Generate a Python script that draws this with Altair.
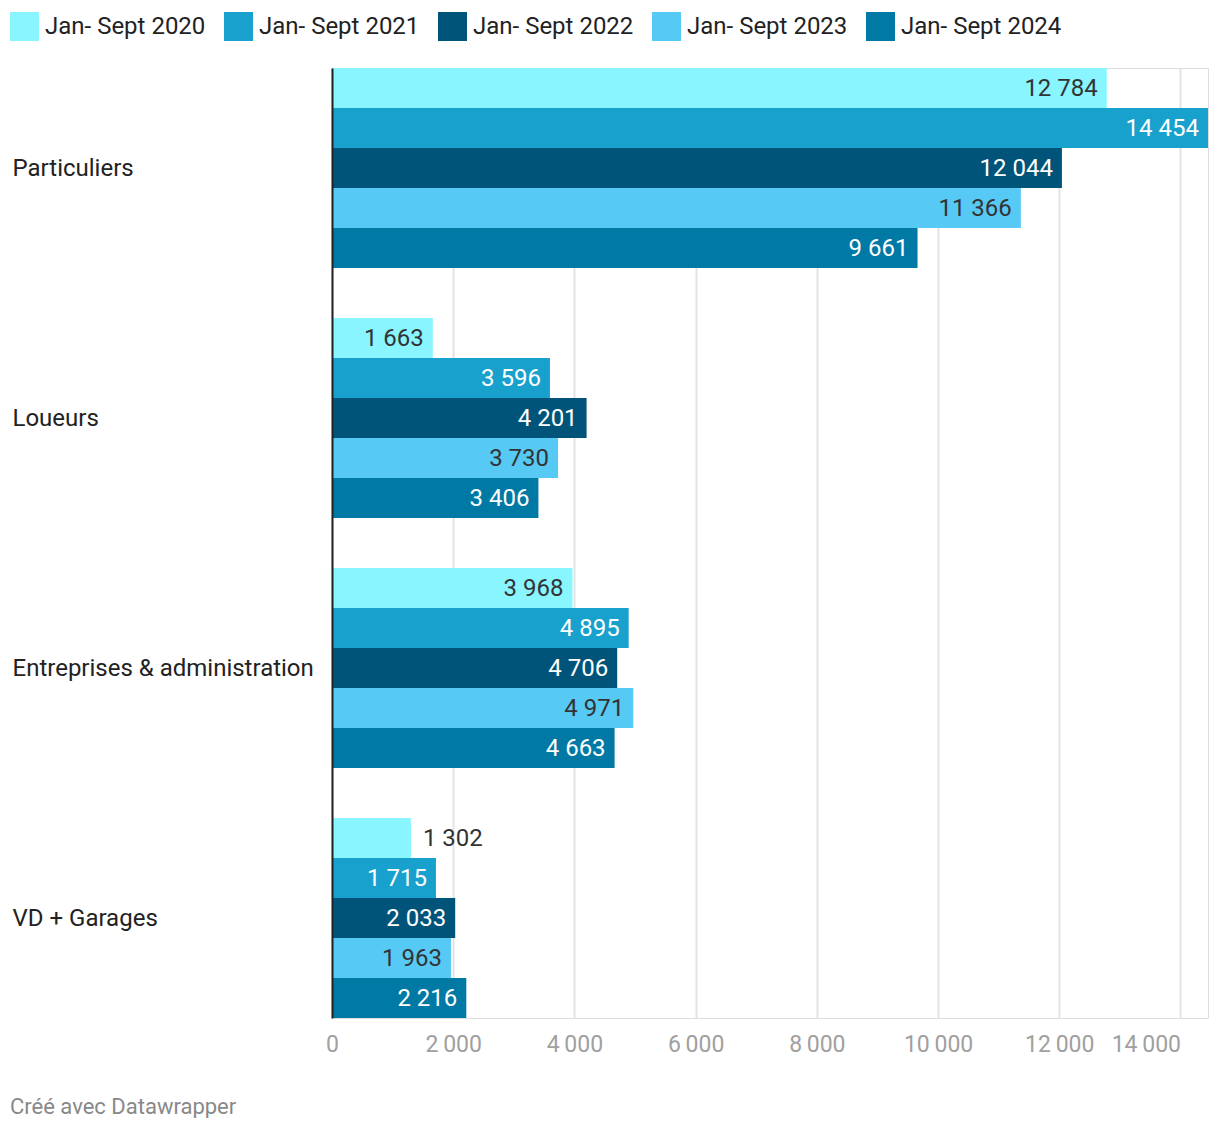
import altair as alt
import pandas as pd

categories = ["Particuliers", "Loueurs", "Entreprises & administration", "VD + Garages"]
series = ["Jan- Sept 2020", "Jan- Sept 2021", "Jan- Sept 2022", "Jan- Sept 2023", "Jan- Sept 2024"]
values_2020 = [12784, 1663, 3968, 1302]
values_2021 = [14454, 3596, 4895, 1715]
values_2022 = [12044, 4201, 4706, 2033]
values_2023 = [11366, 3730, 4971, 1963]
values_2024 = [9661, 3406, 4663, 2216]
colors = ["#88f5ff", "#18a1cd", "#00547a", "#57c9f5", "#0079a5"]
label_colors = ["#333333", "#ffffff", "#ffffff", "#333333", "#ffffff"]
x_ticks = [0, 2000, 4000, 6000, 8000, 10000, 12000, 14000]

all_values = [values_2020, values_2021, values_2022, values_2023, values_2024]
rows = []
for s, vals in zip(series, all_values):
    for c, v in zip(categories, vals):
        rows.append({"category": c, "series": s, "value": v})
df = pd.DataFrame(rows)

FONT = "Roboto"
FS = 24

y_enc = alt.Y("category:N", sort=categories,
              scale=alt.Scale(paddingInner=0.2, paddingOuter=0),
              axis=alt.Axis(title=None, labelAlign="left", labelPadding=320,
                            labelFontSize=FS, labelColor="#222222", labelFont=FONT,
                            labelLimit=0, zindex=2, labelOffset=1,
                            ticks=False, domain=True, domainColor="#222222",
                            domainWidth=2, grid=False))
yoff = alt.YOffset("series:N", sort=series, scale=alt.Scale(paddingInner=0, paddingOuter=0))
x_scale = alt.Scale(domain=[0, 14454], nice=False)

bars = alt.Chart(df).mark_bar().encode(
    x=alt.X("value:Q", scale=x_scale,
            axis=alt.Axis(title=None, values=x_ticks, ticks=False, domain=False,
                          grid=True, gridColor="#e3e3e3", gridWidth=2,
                          labelFontSize=23, labelColor="#a0a0a0", labelFont=FONT,
                          labelPadding=15,
                          labelAlign={"condition": {"test": "datum.value == 14000", "value": "right"}, "value": "center"},
                          labelExpr="replace(format(datum.value, ','), ',', '\u2009')")),
    y=y_enc,
    yOffset=yoff,
    color=alt.Color("series:N", sort=series,
                    scale=alt.Scale(domain=series, range=colors),
                    legend=alt.Legend(title=None, orient="none", legendX=-322, legendY=-56,
                                      direction="horizontal", columns=5,
                                      symbolType="square", symbolSize=841,
                                      symbolStrokeWidth=0, symbolOpacity=1,
                                      labelFontSize=FS, labelColor="#222222", labelFont=FONT,
                                      labelOffset=6, columnPadding=18, padding=0,
                                      labelLimit=400)),
)

base_text = alt.Chart(df).transform_calculate(
    label="replace(format(datum.value, ','), ',', ' ')"
)

inside = base_text.transform_filter("datum.value >= 1400").mark_text(
    align="right", baseline="middle", dx=-9, dy=1, fontSize=FS, font=FONT
).encode(
    x=alt.X("value:Q", scale=x_scale),
    y=alt.Y("category:N", sort=categories),
    yOffset=alt.YOffset("series:N", sort=series),
    text="label:N",
    color=alt.Color("series:N", scale=alt.Scale(domain=series, range=label_colors), legend=None),
)

outside = base_text.transform_filter("datum.value < 1400").mark_text(
    align="left", baseline="middle", dx=12, dy=1, fontSize=FS, font=FONT, color="#333333"
).encode(
    x=alt.X("value:Q", scale=x_scale),
    y=alt.Y("category:N", sort=categories),
    yOffset=alt.YOffset("series:N", sort=series),
    text="label:N",
)

footer = alt.Chart(pd.DataFrame({"t": ["Créé avec Datawrapper"]})).mark_text(
    align="left", baseline="middle", fontSize=22, font=FONT, color="#888888"
).encode(text="t:N", x=alt.value(-322), y=alt.value(1039))

chart = alt.layer(bars, inside, outside, footer).resolve_scale(color="independent").properties(
    width=876, height=950,
    autosize=alt.AutoSizeParams(type="none"),
    padding={"left": 324, "top": 60, "right": 4, "bottom": 100},
).configure_view(stroke=None).configure(background="white")

chart.save("out.html", embed_options={"renderer": "svg", "actions": False})
